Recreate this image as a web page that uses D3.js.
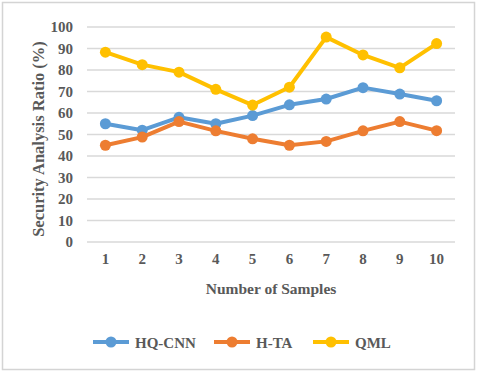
<!DOCTYPE html>
<html><head><meta charset="utf-8">
<script src="https://cdn.jsdelivr.net/npm/d3@7"></script>
<style>html,body{margin:0;padding:0;background:#fff;}svg{display:block;}</style>
</head><body>
<svg id="c" width="480" height="374"></svg>
<script>
const categories = ["1","2","3","4","5","6","7","8","9","10"];
const seriesNames = ["HQ-CNN","H-TA","QML"];
const hqcnn = [55, 52, 58, 55, 58.8, 63.8, 66.5, 71.8, 68.8, 65.7];
const hta   = [45, 48.8, 56, 51.7, 48, 45, 46.8, 51.7, 56, 51.8];
const qml   = [88.3, 82.5, 79, 71, 63.7, 72, 95.3, 87, 81, 92.3];
const yTicks = [0,10,20,30,40,50,60,70,80,90,100];
const colors = ["#5B9BD5","#ED7D31","#FFC000"];
const series = [hqcnn, hta, qml];

const svg = d3.select("#c");
const font = "'Liberation Serif','Times New Roman',serif";
const txt = "#595959";

svg.append("rect").attr("x",2.5).attr("y",2.5).attr("width",472).attr("height",367)
  .attr("fill","#fff").attr("stroke","#d4d4d4").attr("stroke-width",1.5);

const x = d3.scaleBand().domain(categories).range([87,455]);
const y = d3.scaleLinear().domain([0,100]).range([242,27]);

const g = svg.append("g");
g.selectAll("line.grid").data(yTicks).enter().append("line")
  .attr("x1",87).attr("x2",455).attr("y1",d=>y(d)).attr("y2",d=>y(d))
  .attr("stroke","#d9d9d9").attr("stroke-width",1.5);

const yAxis = d3.axisLeft(y).tickValues(yTicks).tickSize(0).tickPadding(0);
const ya = svg.append("g").attr("transform","translate(73,0)").call(yAxis);
ya.select(".domain").remove();
ya.selectAll("text").attr("font-family",font).attr("font-weight","bold").attr("font-size",15).attr("fill",txt);

const xAxis = d3.axisBottom(x).tickSize(0).tickPadding(0);
const xa = svg.append("g").attr("transform","translate(0,253)").call(xAxis);
xa.select(".domain").remove();
xa.selectAll("text").attr("font-family",font).attr("font-weight","bold").attr("font-size",15).attr("fill",txt);

const line = d3.line().x((d,i)=>x(categories[i])+x.bandwidth()/2).y(d=>y(d));
series.forEach((s,k)=>{
  svg.append("path").datum(s).attr("d",line).attr("fill","none")
    .attr("stroke",colors[k]).attr("stroke-width",4).attr("stroke-linejoin","round");
  svg.selectAll(null).data(s).enter().append("circle")
    .attr("cx",(d,i)=>x(categories[i])+x.bandwidth()/2).attr("cy",d=>y(d))
    .attr("r",5.5).attr("fill",colors[k]);
});

svg.append("text").attr("x",271).attr("y",294).attr("text-anchor","middle")
  .attr("font-family",font).attr("font-weight","bold").attr("font-size",15.5).attr("fill",txt)
  .text("Number of Samples");
svg.append("text").attr("transform","translate(44,139) rotate(-90)").attr("text-anchor","middle")
  .attr("font-family",font).attr("font-weight","bold").attr("font-size",16.5).attr("fill",txt)
  .text("Security Analysis Ratio (%)");

const legX = [93,214,313];
seriesNames.forEach((n,k)=>{
  const lg = svg.append("g").attr("transform",`translate(${legX[k]},342)`);
  lg.append("line").attr("x1",0).attr("x2",36).attr("y1",0).attr("y2",0)
    .attr("stroke",colors[k]).attr("stroke-width",4);
  lg.append("circle").attr("cx",18).attr("cy",0).attr("r",5.5).attr("fill",colors[k]);
  lg.append("text").attr("x",42).attr("y",5.5).attr("font-family",font).attr("font-weight","bold")
    .attr("font-size",15).attr("fill",txt).text(n);
});
</script>
</body></html>
